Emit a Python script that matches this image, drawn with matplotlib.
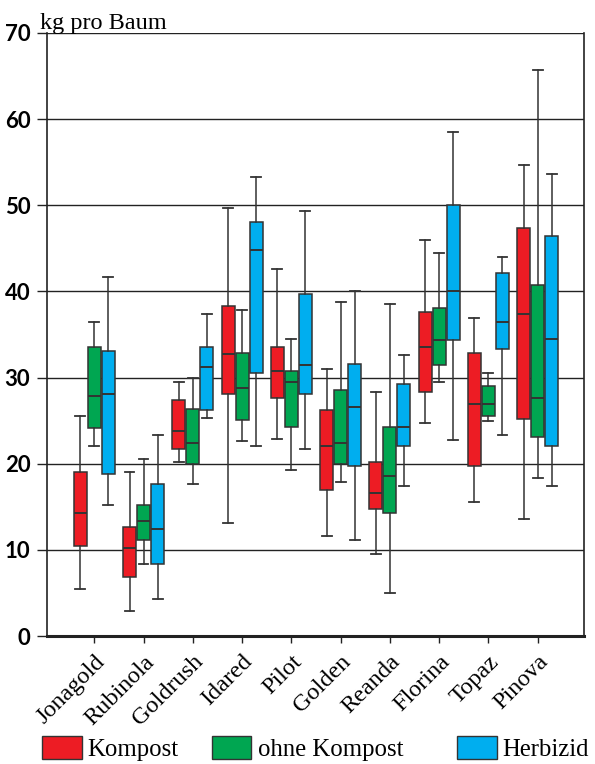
import matplotlib
matplotlib.use("Agg")
import matplotlib.pyplot as plt
from matplotlib.patches import Patch
from matplotlib.transforms import ScaledTranslation
import numpy as np

varieties = ["Jonagold", "Rubinola", "Goldrush", "Idared", "Pilot",
             "Golden", "Reanda", "Florina", "Topaz", "Pinova"]
treatments = ["Kompost", "ohne Kompost", "Herbizid"]
colors = ["#ED1C24", "#00A651", "#00AEEF"]

# per treatment: lower whisker, Q1, median, Q3, upper whisker
kompost_lo  = [5.5, 2.9, 20.25, 13.1, 22.9, 11.65, 9.5, 24.7, 15.5, 13.55]
kompost_q1  = [10.45, 6.9, 21.7, 28.1, 27.6, 16.9, 14.75, 28.3, 19.7, 25.2]
kompost_med = [14.3, 10.2, 23.85, 32.7, 30.7, 22.1, 16.65, 33.6, 26.9, 37.4]
kompost_q3  = [19.05, 12.6, 27.4, 38.3, 33.6, 26.2, 20.2, 37.6, 32.8, 47.4]
kompost_hi  = [25.5, 19.05, 29.5, 49.7, 42.6, 31.0, 28.3, 46.0, 36.9, 54.7]

ohne_lo  = [22.1, 8.4, 17.6, 22.65, 19.3, 17.85, 5.0, 29.5, 25.0, 18.3]
ohne_q1  = [24.1, 11.2, 20.0, 25.05, 24.3, 20.0, 14.3, 31.4, 25.5, 23.1]
ohne_med = [27.8, 13.4, 22.4, 28.8, 29.5, 22.4, 18.6, 34.3, 26.9, 27.6]
ohne_q3  = [33.6, 15.25, 26.4, 32.8, 30.7, 28.5, 24.3, 38.1, 29.0, 40.7]
ohne_hi  = [36.4, 20.5, 30.0, 37.8, 34.5, 38.8, 38.5, 44.5, 30.5, 65.7]

herb_lo  = [15.25, 4.3, 25.25, 22.1, 21.7, 11.2, 17.4, 22.8, 23.3, 17.4]
herb_q1  = [18.8, 8.4, 26.2, 30.5, 28.1, 19.7, 22.1, 34.3, 33.3, 22.1]
herb_med = [28.1, 12.4, 31.2, 44.8, 31.4, 26.6, 24.3, 40.0, 36.4, 34.5]
herb_q3  = [33.1, 17.6, 33.6, 48.1, 39.7, 31.6, 29.3, 50.0, 42.1, 46.4]
herb_hi  = [41.7, 23.3, 37.4, 53.3, 49.3, 40.0, 32.6, 58.5, 44.0, 53.6]

yticks = [0, 10, 20, 30, 40, 50, 60, 70]

series = [
    (kompost_lo, kompost_q1, kompost_med, kompost_q3, kompost_hi),
    (ohne_lo, ohne_q1, ohne_med, ohne_q3, ohne_hi),
    (herb_lo, herb_q1, herb_med, herb_q3, herb_hi),
]

serif = ["Liberation Serif", "DejaVu Serif"]
edge = "#333333"

fig = plt.figure(figsize=(5.95, 7.64), dpi=100)
ax = fig.add_axes([0.079, 0.1675, 0.9025, 0.7895])

x = np.arange(1, len(varieties) + 1)
offsets = [-0.285, 0.0, 0.285]
width = 0.265

for k, (lo, q1, med, q3, hi) in enumerate(series):
    stats = [dict(whislo=a, q1=b, med=c, q3=d, whishi=e, fliers=[])
             for a, b, c, d, e in zip(lo, q1, med, q3, hi)]
    ax.bxp(stats, positions=x + offsets[k], widths=width, patch_artist=True,
           showfliers=False, manage_ticks=False,
           boxprops=dict(facecolor=colors[k], edgecolor=edge, linewidth=1.1),
           medianprops=dict(color=edge, linewidth=1.4),
           whiskerprops=dict(color=edge, linewidth=1.1),
           capprops=dict(color=edge, linewidth=1.3),
           capwidths=0.2, zorder=3)

ax.set_xlim(0.04, 10.94)
ax.set_ylim(0, 70)
ax.set_yticks(yticks)
ax.set_yticklabels([str(t) for t in yticks], fontsize=16,
                   family=["Lato", "DejaVu Sans"], fontweight="bold")
offset = ScaledTranslation(0, -4 / 100, fig.dpi_scale_trans)
for lab in ax.get_yticklabels():
    lab.set_transform(lab.get_transform() + offset)
ax.yaxis.grid(True, color="#222222", linewidth=1.0, zorder=0)
ax.set_axisbelow(True)
ax.tick_params(axis="y", length=7, width=1.0, color="#222222", pad=5)

ax.set_xticks(x)
ax.set_xticklabels(varieties, rotation=45, ha="right", rotation_mode="anchor",
                   fontsize=17.5, family=serif)
ax.tick_params(axis="x", length=5, width=1.0, color="#222222", pad=6)

ax.spines["top"].set_visible(False)
ax.spines["left"].set_linewidth(1.2)
ax.spines["right"].set_linewidth(1.2)
ax.spines["bottom"].set_linewidth(2.2)
for s in ax.spines.values():
    s.set_color("#222222")

fig.text(0.067, 0.962, "kg pro Baum", fontsize=17.5, family=serif, ha="left",
         va="baseline")

legend_x = [0.0706, 0.356, 0.768]
for k, name in enumerate(treatments):
    h = Patch(facecolor=colors[k], edgecolor=edge, linewidth=1.0, label=name)
    fig.legend(handles=[h], loc="lower left", bbox_to_anchor=(legend_x[k], 0.004),
               frameon=False, handlelength=1.6, handleheight=1.0, handletextpad=0.25,
               borderaxespad=0.0, borderpad=0.0,
               prop=dict(family=serif, size=17.8))

fig.savefig("out.png", dpi=100)
